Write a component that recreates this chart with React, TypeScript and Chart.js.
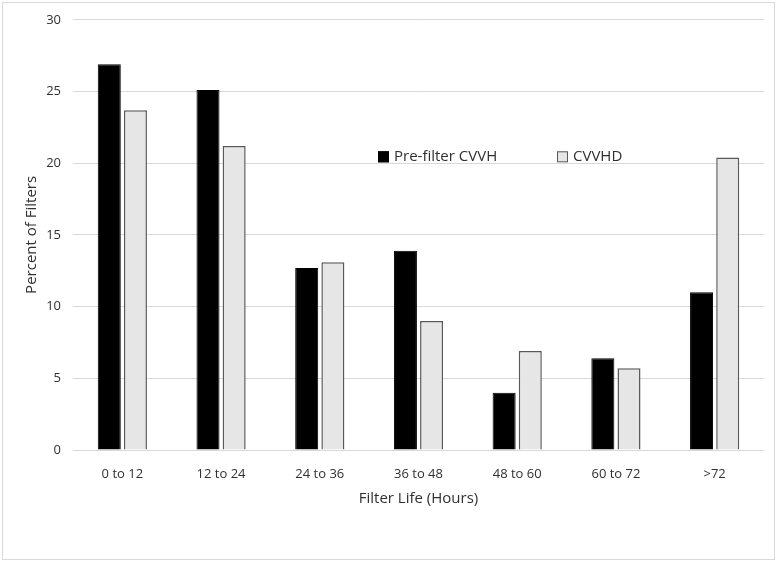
import React, { useEffect, useRef } from "react";
import { Chart, registerables } from "chart.js";

Chart.register(...registerables);

const categories = ["0 to 12", "12 to 24", "24 to 36", "36 to 48", "48 to 60", "60 to 72", ">72"];
const preFilterCVVH = [26.9, 25.1, 12.7, 13.9, 4.0, 6.4, 11.0];
const cvvhd = [23.7, 21.2, 13.1, 9.0, 6.9, 5.7, 20.4];
const seriesLabels = ["Pre-filter CVVH", "CVVHD"];
const yTicks = [0, 5, 10, 15, 20, 25, 30];
const xTitle = "Filter Life (Hours)";
const yTitle = "Percent of Filters";

const FONT = "'Open Sans', 'Noto Sans', sans-serif";
const TEXT = "#303030";

const framePlugin = {
  id: "frame",
  beforeDraw(chart: any) {
    const ctx = chart.ctx;
    ctx.save();
    ctx.fillStyle = "#ffffff";
    ctx.fillRect(0, 0, chart.width, chart.height);
    ctx.strokeStyle = "#d9d9d9";
    ctx.lineWidth = 1;
    ctx.strokeRect(2.5, 2.5, chart.width - 5, chart.height - 5);
    ctx.restore();
  },
};

const innerLegend = {
  id: "innerLegend",
  afterDraw(chart: any) {
    const ctx = chart.ctx;
    const area = chart.chartArea;
    const y = area.top + 137;
    const xs = [area.left + 305, area.left + 484];
    ctx.save();
    ctx.font = `15px ${FONT}`;
    ctx.textBaseline = "middle";
    chart.data.datasets.forEach((ds: any, i: number) => {
      const x = xs[i];
      ctx.fillStyle = ds.backgroundColor;
      ctx.fillRect(x, y - 5.5, 11, 11);
      ctx.strokeStyle = ds.borderColor;
      ctx.lineWidth = 1;
      ctx.strokeRect(x + 0.5, y - 5, 10, 10);
      ctx.fillStyle = TEXT;
      ctx.fillText(ds.label, x + 16, y);
    });
    ctx.restore();
  },
};

export default function App() {
  const ref = useRef<HTMLCanvasElement>(null);
  useEffect(() => {
    document.body.style.margin = "0";
    const chart = new Chart(ref.current!, {
      type: "bar",
      data: {
        labels: categories,
        datasets: [
          {
            label: seriesLabels[0],
            data: preFilterCVVH,
            backgroundColor: "#000000",
            borderColor: "#000000",
            borderWidth: 1,
            barPercentage: 0.88,
            categoryPercentage: 0.53,
          },
          {
            label: seriesLabels[1],
            data: cvvhd,
            backgroundColor: "#e6e6e6",
            borderColor: "#595959",
            borderWidth: 1.5,
            barPercentage: 0.88,
            categoryPercentage: 0.53,
          },
        ],
      },
      options: {
        animation: false,
        responsive: false,
        layout: { padding: { left: 19, top: 18, right: 13, bottom: 50 } },
        plugins: {
          legend: { display: false },
          tooltip: { enabled: false },
        },
        scales: {
          x: {
            grid: { display: false },
            border: { display: false },
            ticks: { color: TEXT, font: { family: FONT, size: 13 }, padding: 8 },
            title: { display: true, text: xTitle, color: TEXT, font: { family: FONT, size: 15 }, padding: { top: 4 } },
            afterFit: (s: any) => { s.height = 62; },
          },
          y: {
            min: 0,
            max: 30,
            afterBuildTicks: (s: any) => { s.ticks = yTicks.map((v) => ({ value: v })); },
            grid: { color: "#d9d9d9", drawTicks: false, lineWidth: 1 },
            border: { display: false },
            ticks: { color: TEXT, font: { family: FONT, size: 13 }, padding: 12 },
            title: { display: true, text: yTitle, color: TEXT, font: { family: FONT, size: 15 }, padding: { bottom: 4 } },
            afterFit: (s: any) => { s.width = 54; },
          },
        },
      },
      plugins: [framePlugin, innerLegend],
    });
    return () => chart.destroy();
  }, []);
  return <canvas ref={ref} width={777} height={562} style={{ display: "block" }} />;
}
